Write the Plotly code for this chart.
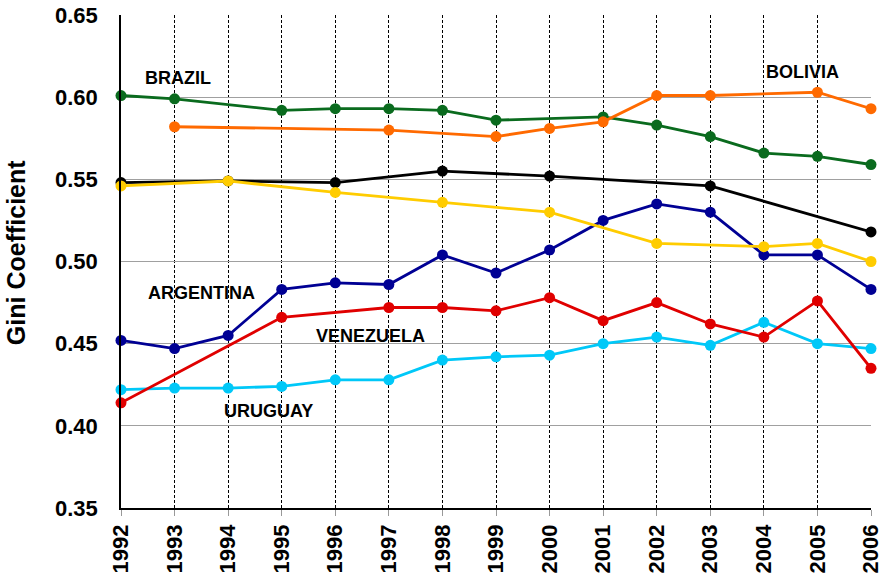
import plotly.graph_objects as go

# Gini coefficient by year (None = no survey that year)
years = list(range(1992, 2007))

brazil = [0.601, 0.599, None, 0.592, 0.593, 0.593, 0.592, 0.586, None, 0.588,
          0.583, 0.576, 0.566, 0.564, 0.559]
bolivia = [None, 0.582, None, None, None, 0.580, None, 0.576, 0.581, 0.585,
           0.601, 0.601, None, 0.603, 0.593]
mexico = [0.548, None, 0.549, None, 0.548, None, 0.555, None, 0.552, None,
          None, 0.546, None, None, 0.518]
chile = [0.546, None, 0.549, None, 0.542, None, 0.536, None, 0.530, None,
         0.511, None, 0.509, 0.511, 0.500]
argentina = [0.452, 0.447, 0.455, 0.483, 0.487, 0.486, 0.504, 0.493, 0.507, 0.525,
             0.535, 0.530, 0.504, 0.504, 0.483]
venezuela = [0.414, None, None, 0.466, None, 0.472, 0.472, 0.470, 0.478, 0.464,
             0.475, 0.462, 0.454, 0.476, 0.435]
uruguay = [0.422, 0.423, 0.423, 0.424, 0.428, 0.428, 0.440, 0.442, 0.443, 0.450,
           0.454, 0.449, 0.463, 0.450, 0.447]

labels = ["BRAZIL", "BOLIVIA", "ARGENTINA", "VENEZUELA", "URUGUAY"]
label_x = [1993.06, 2004.73, 1993.5, 1996.66, 1994.75]
label_y = [0.6114, 0.6153, 0.4806, 0.4548, 0.4092]

series = [
    ("Brazil", brazil, "#0A6B1E"),
    ("Bolivia", bolivia, "#FF6A00"),
    ("Mexico", mexico, "#000000"),
    ("Argentina", argentina, "#000094"),
    ("Uruguay", uruguay, "#00C8F8"),
    ("Venezuela", venezuela, "#E00000"),
    ("Chile", chile, "#FFCC00"),
]

font = "Liberation Sans, Arial, sans-serif"

fig = go.Figure()
for name, vals, col in series:
    fig.add_trace(go.Scatter(x=years, y=vals, name=name, mode="lines+markers",
                             connectgaps=True, cliponaxis=False,
                             line=dict(color=col, width=2.8),
                             marker=dict(color=col, size=11)))

for txt, x, y in zip(labels, label_x, label_y):
    fig.add_annotation(x=x, y=y, text=txt, showarrow=False,
                       font=dict(family=font, size=18, color="black", weight="bold"))

fig.add_annotation(x=-0.14, y=0.519, xref="paper", yref="paper", text="Gini Coefficient",
                   textangle=-90, showarrow=False, xanchor="center", yanchor="middle",
                   font=dict(family=font, size=25, color="black", weight="bold"))

fig.update_layout(
    width=886, height=576,
    margin=dict(l=121, r=15, t=15, b=68),
    plot_bgcolor="white", paper_bgcolor="white",
    showlegend=False,
    xaxis=dict(range=[1992, 2006], tickvals=years, tickangle=-90, automargin=False,
               tickfont=dict(family=font, size=22, color="black", weight="bold"),
               ticks="outside", ticklen=6, tickcolor="#999999",
               showgrid=True, gridcolor="black", gridwidth=1, griddash="3px,2px",
               showline=True, linecolor="black", linewidth=1.5, zeroline=False),
    yaxis=dict(range=[0.35, 0.65], dtick=0.05, tickformat=".2f", automargin=False,
               tickfont=dict(family=font, size=22, color="black", weight="bold"),
               ticks="", ticklabelstandoff=17,
               showgrid=True, gridcolor="#A0A0A0", gridwidth=1,
               showline=True, linecolor="black", linewidth=1.5, zeroline=False),
)

# page body has a default 8px margin; drop it so the figure fills the window
fig.write_html("out.html", config={"displayModeBar": False},
               post_script="document.body.style.margin='0';")
